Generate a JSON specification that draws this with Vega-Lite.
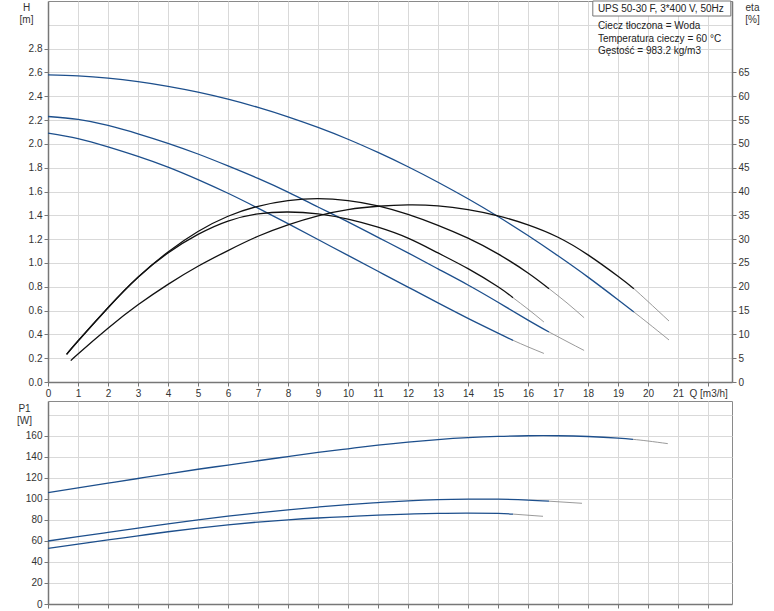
{
  "$schema": "https://vega.github.io/schema/vega-lite/v6.json",
  "padding": {"left": 16, "top": 0, "right": 5, "bottom": 0},
  "bounds": "flush",
  "spacing": 19,
  "config": {
    "font": "Liberation Sans",
    "view": {"stroke": "#8a8a8a", "strokeWidth": 1},
    "axis": {
      "labelFont": "Liberation Sans", "labelFontSize": 10, "labelColor": "#333",
      "titleFont": "Liberation Sans", "titleFontSize": 10, "titleFontWeight": "normal", "titleColor": "#333",
      "gridColor": "#d9d9d9", "gridWidth": 1, "domainColor": "#777", "domainWidth": 1.5,
      "tickColor": "#777", "tickSize": 4, "labelPadding": 2, "labelFlush": false, "labelOverlap": false
    }
  },
  "datasets": {
    "H": [
      {"Q":0,"v":2.58,"s":"3","g":"m"},{"Q":1,"v":2.571,"s":"3","g":"m"},{"Q":2,"v":2.552,"s":"3","g":"m"},{"Q":3,"v":2.522,"s":"3","g":"m"},{"Q":4,"v":2.483,"s":"3","g":"m"},{"Q":5,"v":2.434,"s":"3","g":"m"},{"Q":6,"v":2.375,"s":"3","g":"m"},{"Q":7,"v":2.306,"s":"3","g":"m"},{"Q":8,"v":2.227,"s":"3","g":"m"},{"Q":9,"v":2.138,"s":"3","g":"m"},{"Q":10,"v":2.039,"s":"3","g":"m"},{"Q":11,"v":1.928,"s":"3","g":"m"},{"Q":12,"v":1.808,"s":"3","g":"m"},{"Q":13,"v":1.678,"s":"3","g":"m"},{"Q":14,"v":1.539,"s":"3","g":"m"},{"Q":15,"v":1.39,"s":"3","g":"m"},{"Q":16,"v":1.23,"s":"3","g":"m"},{"Q":17,"v":1.06,"s":"3","g":"m"},{"Q":18,"v":0.881,"s":"3","g":"m"},{"Q":19,"v":0.691,"s":"3","g":"m"},{"Q":19.53,"v":0.588,"s":"3","g":"m"},
      {"Q":19.53,"v":0.588,"s":"3","g":"x"},{"Q":20,"v":0.495,"s":"3","g":"x"},{"Q":20.7,"v":0.353,"s":"3","g":"x"},
      {"Q":0,"v":2.23,"s":"2","g":"m"},{"Q":1,"v":2.205,"s":"2","g":"m"},{"Q":2,"v":2.155,"s":"2","g":"m"},{"Q":3,"v":2.085,"s":"2","g":"m"},{"Q":4,"v":2.005,"s":"2","g":"m"},{"Q":5,"v":1.915,"s":"2","g":"m"},{"Q":6,"v":1.815,"s":"2","g":"m"},{"Q":7,"v":1.71,"s":"2","g":"m"},{"Q":8,"v":1.595,"s":"2","g":"m"},{"Q":9,"v":1.47,"s":"2","g":"m"},{"Q":10,"v":1.345,"s":"2","g":"m"},{"Q":11,"v":1.215,"s":"2","g":"m"},{"Q":12,"v":1.085,"s":"2","g":"m"},{"Q":13,"v":0.95,"s":"2","g":"m"},{"Q":14,"v":0.815,"s":"2","g":"m"},{"Q":15,"v":0.67,"s":"2","g":"m"},{"Q":16,"v":0.52,"s":"2","g":"m"},{"Q":16.7,"v":0.42,"s":"2","g":"m"},
      {"Q":16.7,"v":0.42,"s":"2","g":"x"},{"Q":17.3,"v":0.34,"s":"2","g":"x"},{"Q":17.87,"v":0.265,"s":"2","g":"x"},
      {"Q":0,"v":2.09,"s":"1","g":"m"},{"Q":1,"v":2.045,"s":"1","g":"m"},{"Q":2,"v":1.975,"s":"1","g":"m"},{"Q":3,"v":1.895,"s":"1","g":"m"},{"Q":4,"v":1.805,"s":"1","g":"m"},{"Q":5,"v":1.70,"s":"1","g":"m"},{"Q":6,"v":1.585,"s":"1","g":"m"},{"Q":7,"v":1.46,"s":"1","g":"m"},{"Q":8,"v":1.33,"s":"1","g":"m"},{"Q":9,"v":1.197,"s":"1","g":"m"},{"Q":10,"v":1.063,"s":"1","g":"m"},{"Q":11,"v":0.93,"s":"1","g":"m"},{"Q":12,"v":0.797,"s":"1","g":"m"},{"Q":13,"v":0.665,"s":"1","g":"m"},{"Q":14,"v":0.535,"s":"1","g":"m"},{"Q":15,"v":0.41,"s":"1","g":"m"},{"Q":15.5,"v":0.35,"s":"1","g":"m"},
      {"Q":15.5,"v":0.35,"s":"1","g":"x"},{"Q":16,"v":0.295,"s":"1","g":"x"},{"Q":16.53,"v":0.24,"s":"1","g":"x"}
    ],
    "E": [
      {"Q":0.76,"v":4.5,"s":"3","g":"m"},{"Q":1,"v":5.9,"s":"3","g":"m"},{"Q":2,"v":11.3,"s":"3","g":"m"},{"Q":3,"v":16.2,"s":"3","g":"m"},{"Q":4,"v":20.5,"s":"3","g":"m"},{"Q":5,"v":24.3,"s":"3","g":"m"},{"Q":6,"v":27.6,"s":"3","g":"m"},{"Q":7,"v":30.6,"s":"3","g":"m"},{"Q":8,"v":33.0,"s":"3","g":"m"},{"Q":9,"v":34.9,"s":"3","g":"m"},{"Q":10,"v":36.2,"s":"3","g":"m"},{"Q":11,"v":36.9,"s":"3","g":"m"},{"Q":12,"v":37.2,"s":"3","g":"m"},{"Q":13,"v":37.0,"s":"3","g":"m"},{"Q":14,"v":36.2,"s":"3","g":"m"},{"Q":15,"v":34.9,"s":"3","g":"m"},{"Q":16,"v":33.0,"s":"3","g":"m"},{"Q":17,"v":30.4,"s":"3","g":"m"},{"Q":18,"v":26.7,"s":"3","g":"m"},{"Q":19,"v":22.2,"s":"3","g":"m"},{"Q":19.53,"v":19.6,"s":"3","g":"m"},
      {"Q":19.53,"v":19.6,"s":"3","g":"x"},{"Q":20,"v":16.9,"s":"3","g":"x"},{"Q":20.7,"v":12.8,"s":"3","g":"x"},
      {"Q":0.62,"v":5.8,"s":"2","g":"m"},{"Q":1,"v":8.6,"s":"2","g":"m"},{"Q":2,"v":15.6,"s":"2","g":"m"},{"Q":3,"v":22.0,"s":"2","g":"m"},{"Q":4,"v":27.3,"s":"2","g":"m"},{"Q":5,"v":31.6,"s":"2","g":"m"},{"Q":6,"v":34.8,"s":"2","g":"m"},{"Q":7,"v":36.9,"s":"2","g":"m"},{"Q":8,"v":38.1,"s":"2","g":"m"},{"Q":9,"v":38.5,"s":"2","g":"m"},{"Q":10,"v":38.1,"s":"2","g":"m"},{"Q":11,"v":37.0,"s":"2","g":"m"},{"Q":12,"v":35.2,"s":"2","g":"m"},{"Q":13,"v":32.9,"s":"2","g":"m"},{"Q":14,"v":30.2,"s":"2","g":"m"},{"Q":15,"v":26.9,"s":"2","g":"m"},{"Q":16,"v":22.9,"s":"2","g":"m"},{"Q":16.7,"v":19.6,"s":"2","g":"m"},
      {"Q":16.7,"v":19.6,"s":"2","g":"x"},{"Q":17.3,"v":16.6,"s":"2","g":"x"},{"Q":17.87,"v":13.5,"s":"2","g":"x"},
      {"Q":0.62,"v":5.8,"s":"1","g":"m"},{"Q":1,"v":8.6,"s":"1","g":"m"},{"Q":2,"v":15.6,"s":"1","g":"m"},{"Q":3,"v":22.0,"s":"1","g":"m"},{"Q":4,"v":27.1,"s":"1","g":"m"},{"Q":5,"v":31.0,"s":"1","g":"m"},{"Q":6,"v":33.8,"s":"1","g":"m"},{"Q":7,"v":35.3,"s":"1","g":"m"},{"Q":8,"v":35.7,"s":"1","g":"m"},{"Q":9,"v":35.3,"s":"1","g":"m"},{"Q":10,"v":34.2,"s":"1","g":"m"},{"Q":11,"v":32.5,"s":"1","g":"m"},{"Q":12,"v":30.2,"s":"1","g":"m"},{"Q":13,"v":27.1,"s":"1","g":"m"},{"Q":14,"v":23.8,"s":"1","g":"m"},{"Q":15,"v":20.0,"s":"1","g":"m"},{"Q":15.5,"v":17.7,"s":"1","g":"m"},
      {"Q":15.5,"v":17.7,"s":"1","g":"x"},{"Q":16,"v":15.3,"s":"1","g":"x"},{"Q":16.53,"v":12.6,"s":"1","g":"x"}
    ],
    "P": [
      {"Q":0,"v":106,"s":"3","g":"m"},{"Q":1,"v":110.5,"s":"3","g":"m"},{"Q":2,"v":115,"s":"3","g":"m"},{"Q":3,"v":119.5,"s":"3","g":"m"},{"Q":4,"v":124,"s":"3","g":"m"},{"Q":5,"v":128.3,"s":"3","g":"m"},{"Q":6,"v":132.3,"s":"3","g":"m"},{"Q":7,"v":136.4,"s":"3","g":"m"},{"Q":8,"v":140.4,"s":"3","g":"m"},{"Q":9,"v":144.3,"s":"3","g":"m"},{"Q":10,"v":147.8,"s":"3","g":"m"},{"Q":11,"v":151.2,"s":"3","g":"m"},{"Q":12,"v":154.2,"s":"3","g":"m"},{"Q":13,"v":156.6,"s":"3","g":"m"},{"Q":14,"v":158.4,"s":"3","g":"m"},{"Q":15,"v":159.6,"s":"3","g":"m"},{"Q":16,"v":160.2,"s":"3","g":"m"},{"Q":17,"v":160.2,"s":"3","g":"m"},{"Q":18,"v":159.5,"s":"3","g":"m"},{"Q":19,"v":158,"s":"3","g":"m"},{"Q":19.5,"v":156.8,"s":"3","g":"m"},
      {"Q":19.5,"v":156.8,"s":"3","g":"x"},{"Q":20,"v":155.2,"s":"3","g":"x"},{"Q":20.66,"v":152.7,"s":"3","g":"x"},
      {"Q":0,"v":60,"s":"2","g":"m"},{"Q":1,"v":64.2,"s":"2","g":"m"},{"Q":2,"v":68.2,"s":"2","g":"m"},{"Q":3,"v":72.2,"s":"2","g":"m"},{"Q":4,"v":76.3,"s":"2","g":"m"},{"Q":5,"v":80.2,"s":"2","g":"m"},{"Q":6,"v":83.6,"s":"2","g":"m"},{"Q":7,"v":86.8,"s":"2","g":"m"},{"Q":8,"v":89.7,"s":"2","g":"m"},{"Q":9,"v":92.3,"s":"2","g":"m"},{"Q":10,"v":94.7,"s":"2","g":"m"},{"Q":11,"v":96.6,"s":"2","g":"m"},{"Q":12,"v":98.2,"s":"2","g":"m"},{"Q":13,"v":99.3,"s":"2","g":"m"},{"Q":14,"v":99.8,"s":"2","g":"m"},{"Q":15,"v":99.8,"s":"2","g":"m"},{"Q":16,"v":99.0,"s":"2","g":"m"},{"Q":16.7,"v":97.9,"s":"2","g":"m"},
      {"Q":16.7,"v":97.9,"s":"2","g":"x"},{"Q":17.8,"v":95.9,"s":"2","g":"x"},
      {"Q":0,"v":53,"s":"1","g":"m"},{"Q":1,"v":57,"s":"1","g":"m"},{"Q":2,"v":61,"s":"1","g":"m"},{"Q":3,"v":64.9,"s":"1","g":"m"},{"Q":4,"v":68.8,"s":"1","g":"m"},{"Q":5,"v":72.3,"s":"1","g":"m"},{"Q":6,"v":75.4,"s":"1","g":"m"},{"Q":7,"v":78,"s":"1","g":"m"},{"Q":8,"v":80.2,"s":"1","g":"m"},{"Q":9,"v":81.9,"s":"1","g":"m"},{"Q":10,"v":83.2,"s":"1","g":"m"},{"Q":11,"v":84.6,"s":"1","g":"m"},{"Q":12,"v":85.6,"s":"1","g":"m"},{"Q":13,"v":86.3,"s":"1","g":"m"},{"Q":14,"v":86.6,"s":"1","g":"m"},{"Q":15,"v":86.2,"s":"1","g":"m"},{"Q":15.5,"v":85.6,"s":"1","g":"m"},
      {"Q":15.5,"v":85.6,"s":"1","g":"x"},{"Q":16.5,"v":83.5,"s":"1","g":"x"}
    ]
  },
  "vconcat": [
    {
      "width": 684,
      "height": 381,
      "layer": [
        {
          "layer": [
            {
              "data": {"name": "H"},
              "transform": [{"filter": "datum.g == 'm'"}],
              "mark": {"type": "line", "color": "#1d4f8c", "interpolate": "natural"},
              "encoding": {
                "x": {"field": "Q", "type": "quantitative",
                  "scale": {"domain": [0, 22.8], "nice": false, "zero": false},
                  "axis": {"values": [0,1,2,3,4,5,6,7,8,9,10,11,12,13,14,15,16,17,18,19,20,21,22], "tickCount": 100,
                    "labelExpr": "datum.value > 21.5 ? '' : format(datum.value, 'd')", "grid": true,
                    "title": "Q [m3/h]", "titleX": 641, "titleY": 6, "titleAlign": "left", "titleBaseline": "top", "titleAnchor": null}},
                "y": {"field": "v", "type": "quantitative",
                  "scale": {"domain": [0, 3.2], "nice": false},
                  "axis": {"values": [0,0.2,0.4,0.6,0.8,1,1.2,1.4,1.6,1.8,2,2.2,2.4,2.6,2.8,3.0], "tickCount": 100,
                    "labelExpr": "datum.value > 2.9 ? '' : format(datum.value, '.1f')",
                    "tickOpacity": {"condition": {"test": "datum.value > 2.9", "value": 0}, "value": 1},
                    "grid": true, "title": ["H", "[m]"], "titleAngle": 0, "titleX": -22, "titleY": 1,
                    "titleAlign": "center", "titleBaseline": "top", "titleLineHeight": 12}},
                "detail": {"field": "s"},
                "strokeWidth": {"field": "s", "type": "ordinal", "scale": {"domain": ["1","2","3"], "range": [1.3, 1.3, 2.7]}, "legend": null}
              }
            },
            {
              "data": {"name": "H"},
              "transform": [{"filter": "datum.g == 'x'"}],
              "mark": {"type": "line", "color": "#808080", "strokeWidth": 0.8, "interpolate": "natural"},
              "encoding": {
                "x": {"field": "Q", "type": "quantitative"},
                "y": {"field": "v", "type": "quantitative"},
                "detail": {"field": "s"}
              }
            },
            {
              "data": {"values": [{}]},
              "mark": {"type": "rect", "fill": "white", "stroke": "#777", "strokeWidth": 1},
              "encoding": {
                "x": {"datum": 18.16, "type": "quantitative"},
                "x2": {"datum": 22.76},
                "y": {"datum": 3.2, "type": "quantitative"},
                "y2": {"datum": 3.074}
              }
            },
            {
              "data": {"values": [{}]},
              "mark": {"type": "text", "text": "UPS 50-30 F, 3*400 V, 50Hz", "align": "left", "baseline": "middle", "fontSize": 10, "color": "#222", "font": "Liberation Sans"},
              "encoding": {
                "x": {"datum": 18.33, "type": "quantitative"},
                "y": {"datum": 3.137, "type": "quantitative"}
              }
            },
            {
              "data": {"values": [{}]},
              "mark": {"type": "text", "text": ["Ciecz tłoczona = Woda", "Temperatura cieczy = 60 °C", "Gęstość = 983.2 kg/m3"], "align": "left", "baseline": "top", "fontSize": 10, "lineHeight": 12.3, "color": "#222", "font": "Liberation Sans"},
              "encoding": {
                "x": {"datum": 18.33, "type": "quantitative"},
                "y": {"datum": 3.03, "type": "quantitative"}
              }
            }
          ]
        },
        {
          "layer": [
            {
              "data": {"name": "E"},
              "transform": [{"filter": "datum.g == 'm'"}],
              "mark": {"type": "line", "color": "#111", "interpolate": "natural"},
              "encoding": {
                "x": {"field": "Q", "type": "quantitative"},
                "y": {"field": "v", "type": "quantitative",
                  "scale": {"domain": [0, 80], "nice": false},
                  "axis": {"orient": "right", "values": [0,5,10,15,20,25,30,35,40,45,50,55,60,65], "tickCount": 100,
                    "grid": false, "title": ["eta", "[%]"], "titleAngle": 0, "titleX": 20, "titleY": 1,
                    "titleAlign": "center", "titleBaseline": "top", "titleLineHeight": 12}},
                "detail": {"field": "s"},
                "strokeWidth": {"field": "s", "type": "ordinal", "scale": {"domain": ["1","2","3"], "range": [1.3, 1.3, 2.7]}, "legend": null}
              }
            },
            {
              "data": {"name": "E"},
              "transform": [{"filter": "datum.g == 'x'"}],
              "mark": {"type": "line", "color": "#808080", "strokeWidth": 0.8, "interpolate": "natural"},
              "encoding": {
                "x": {"field": "Q", "type": "quantitative"},
                "y": {"field": "v", "type": "quantitative"},
                "detail": {"field": "s"}
              }
            }
          ]
        }
      ],
      "resolve": {"scale": {"y": "independent", "strokeWidth": "independent"}}
    },
    {
      "width": 684,
      "height": 203,
      "layer": [
        {
          "data": {"name": "P"},
          "transform": [{"filter": "datum.g == 'm'"}],
          "mark": {"type": "line", "color": "#1d4f8c", "interpolate": "natural"},
          "encoding": {
            "x": {"field": "Q", "type": "quantitative",
              "scale": {"domain": [0, 22.8], "nice": false, "zero": false},
              "axis": {"values": [0,1,2,3,4,5,6,7,8,9,10,11,12,13,14,15,16,17,18,19,20,21,22], "tickCount": 100,
                "labels": false, "grid": true, "title": null}},
            "y": {"field": "v", "type": "quantitative",
              "scale": {"domain": [0, 193.3], "nice": false},
              "axis": {"values": [0,20,40,60,80,100,120,140,160,180], "tickCount": 100,
                "labelExpr": "datum.value > 170 ? '' : format(datum.value, 'd')",
                "tickOpacity": {"condition": {"test": "datum.value > 170", "value": 0}, "value": 1},
                "grid": true, "title": ["P1", "[W]"], "titleAngle": 0, "titleX": -24, "titleY": 2,
                "titleAlign": "center", "titleBaseline": "top", "titleLineHeight": 12}},
            "detail": {"field": "s"},
            "strokeWidth": {"field": "s", "type": "ordinal", "scale": {"domain": ["1","2","3"], "range": [1.3, 1.3, 2.7]}, "legend": null}
          }
        },
        {
          "data": {"name": "P"},
          "transform": [{"filter": "datum.g == 'x'"}],
          "mark": {"type": "line", "color": "#808080", "strokeWidth": 0.8, "interpolate": "natural"},
          "encoding": {
            "x": {"field": "Q", "type": "quantitative"},
            "y": {"field": "v", "type": "quantitative"},
            "detail": {"field": "s"}
          }
        }
      ]
    }
  ]
}
